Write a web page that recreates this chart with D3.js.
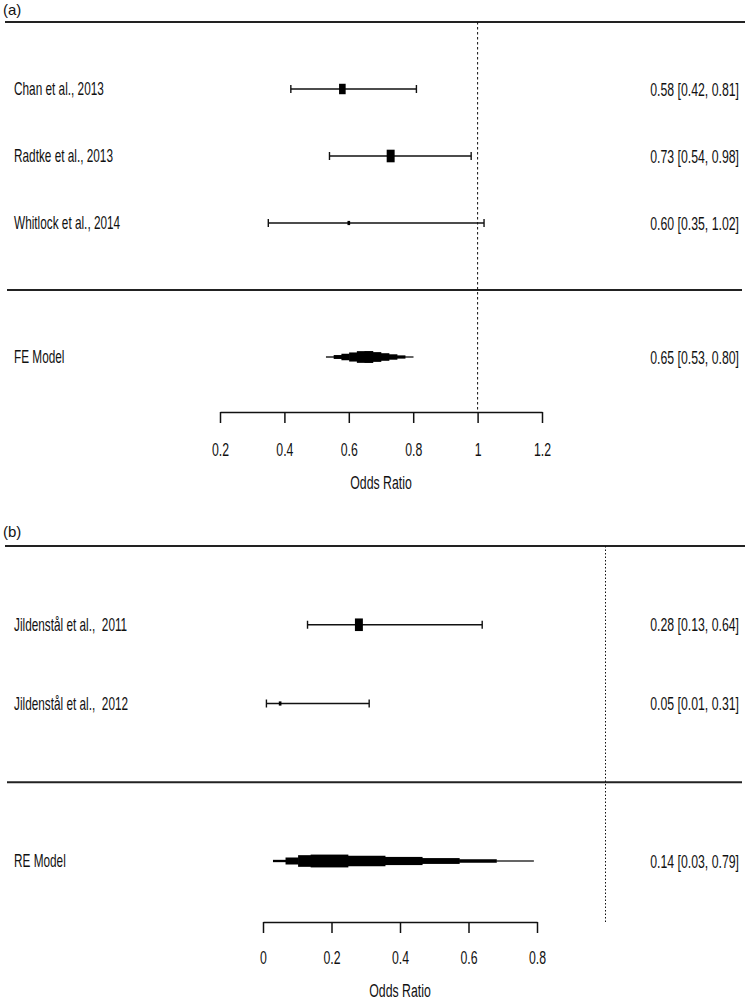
<!DOCTYPE html>
<html>
<head>
<meta charset="utf-8">
<script src="https://cdn.jsdelivr.net/npm/d3@7"></script>
<style>
  body { margin: 0; background: #fff; }
  svg text { font-family: "Liberation Sans", Arial, sans-serif; fill: #111; white-space: pre; }
</style>
</head>
<body>
<div id="chart"></div>
<script>
// ---- data, panel (a) ----
var studiesA = ["Chan et al., 2013", "Radtke et al., 2013", "Whitlock et al., 2014"];
var orA = [0.58, 0.73, 0.60];
var lowerA = [0.42, 0.54, 0.35];
var upperA = [0.81, 0.98, 1.02];
var modelA = ["FE Model", 0.65, 0.53, 0.80];
var ticksA = [0.2, 0.4, 0.6, 0.8, 1, 1.2];

// ---- data, panel (b) ----
var studiesB = ["Jildenstål et al.,  2011", "Jildenstål et al.,  2012"];
var orB = [0.28, 0.05];
var lowerB = [0.13, 0.01];
var upperB = [0.64, 0.31];
var modelB = ["RE Model", 0.14, 0.03, 0.79];
var ticksB = [0, 0.2, 0.4, 0.6, 0.8];

var W = 750, H = 1000;
var svg = d3.select("#chart").append("svg")
    .attr("width", W)
    .attr("height", H);

var f2 = d3.format(".2f");
var stretch = 1.5;   // the original is taller than wide

// text that is stretched vertically, centred on y
function label(g, x, y, txt, anchor, size) {
    g.append("text")
        .attr("transform", "translate(" + x + "," + y + ") scale(1," + stretch + ")")
        .attr("dy", "0.36em")
        .attr("text-anchor", anchor || "start")
        .style("font-size", (size || 12.3) + "px")
        .text(txt);
}

// summary diamond drawn as steps, like the low-res original
function stepDiamond(g, x0, xc, x1, cy, h, stepLen) {
    var segs = [];
    [[xc, x0], [xc, x1]].forEach(function (side) {
        var len = Math.abs(side[1] - side[0]);
        var n = Math.max(3, Math.round(len / stepLen));
        for (var j = 0; j < n; j++) {
            var a = side[0] + (side[1] - side[0]) * j / n;
            var b = side[0] + (side[1] - side[0]) * (j + 1) / n;
            var hh = h * (1 - (j + 0.5) / n);
            segs.push([Math.min(a, b), Math.max(a, b), Math.max(hh, 0.6)]);
        }
    });
    g.selectAll(".step")
        .data(segs)
        .enter().append("rect")
        .attr("class", "step")
        .attr("x", function (d) { return d[0] - 0.3; })
        .attr("width", function (d) { return d[1] - d[0] + 0.6; })
        .attr("y", function (d) { return cy - d[2]; })
        .attr("height", function (d) { return 2 * d[2]; })
        .attr("fill", "#000");
}

// one forest panel
function forest(opt) {
    var g = svg.append("g");
    var x = opt.x, y = opt.y;
    var k = opt.studies.length;

    // inverse-variance weights -> point sizes (same as metafor)
    var w = opt.est.map(function (d, i) {
        var se = (Math.log(opt.hi[i]) - Math.log(opt.lo[i])) / (2 * 1.96);
        return 1 / (se * se);
    });
    var wMin = d3.min(w), wMax = d3.max(w);
    var psize = w.map(function (d) { return 0.5 + (d - wMin) / (wMax - wMin); });

    // panel tag
    g.append("text")
        .attr("x", 3)
        .attr("y", opt.tagY)
        .style("font-size", "15px")
        .text(opt.tag);

    // top and separator lines
    g.append("line")
        .attr("x1", 5).attr("x2", 745)
        .attr("y1", y(k + 1)).attr("y2", y(k + 1))
        .attr("stroke", "#222").attr("stroke-width", 2.2);
    g.append("line")
        .attr("x1", 7).attr("x2", 742)
        .attr("y1", y(0)).attr("y2", y(0))
        .attr("stroke", "#222").attr("stroke-width", 2.2);

    // reference line at OR = 1
    g.append("line")
        .attr("x1", x(1)).attr("x2", x(1))
        .attr("y1", y(k + 1)).attr("y2", opt.axisY)
        .attr("stroke", "#111").attr("stroke-width", 1)
        .attr("stroke-dasharray", opt.dash);

    // studies
    var rows = g.selectAll(".study")
        .data(opt.studies)
        .enter().append("g")
        .attr("class", "study");

    rows.each(function (name, i) {
        var row = d3.select(this);
        var cy = y(k - i);
        row.append("line")
            .attr("x1", x(opt.lo[i])).attr("x2", x(opt.hi[i]))
            .attr("y1", cy).attr("y2", cy)
            .attr("stroke", "#111").attr("stroke-width", 1.6);
        [opt.lo[i], opt.hi[i]].forEach(function (v) {
            row.append("line")
                .attr("x1", x(v)).attr("x2", x(v))
                .attr("y1", cy - 4).attr("y2", cy + 4)
                .attr("stroke", "#111").attr("stroke-width", 1.4);
        });
        var sw = psize[i] * 5.3, sh = psize[i] * 8.4;
        row.append("rect")
            .attr("x", x(opt.est[i]) - sw / 2)
            .attr("y", cy - sh / 2)
            .attr("width", sw)
            .attr("height", sh)
            .attr("fill", "#000");
        label(row, 14, cy, name, "start", 11.8);
        label(row, 739, cy, f2(opt.est[i]) + " [" + f2(opt.lo[i]) + ", " + f2(opt.hi[i]) + "]", "end");
    });

    // summary estimate
    var m = opt.model;
    var my = y(-1);
    stepDiamond(g, x(m[2]), x(m[1]), x(m[3]), my, opt.dh, opt.stepLen);
    label(g, 14, my, m[0], "start", 11.8);
    label(g, 739, my, f2(m[1]) + " [" + f2(m[2]) + ", " + f2(m[3]) + "]", "end");

    // x axis
    var ax = g.append("g")
        .attr("transform", "translate(0," + opt.axisY + ")")
        .call(d3.axisBottom(x)
            .tickValues(opt.ticks)
            .tickFormat(function (d) { return String(d); })
            .tickSize(11)
            .tickSizeOuter(0));
    ax.select(".domain").attr("stroke", "#111").attr("stroke-width", 1.5);
    ax.selectAll(".tick line").attr("stroke", "#111").attr("stroke-width", 1.5);
    ax.selectAll(".tick text")
        .attr("y", null)
        .attr("dy", "0.36em")
        .attr("transform", "translate(0," + opt.tickLabY + ") scale(1," + stretch + ")")
        .style("font-size", "12.3px")
        .style("font-family", "'Liberation Sans', Arial, sans-serif")
        .attr("fill", "#111");

    var mid = (x.range()[0] + x.range()[1]) / 2;
    label(g, mid, opt.axisY + opt.titleY, "Odds Ratio", "middle");
}

forest({
    tag: "(a)", tagY: 15,
    studies: studiesA, est: orA, lo: lowerA, hi: upperA, model: modelA, ticks: ticksA,
    x: d3.scaleLinear().domain([0.2, 1.2]).range([220, 542]),
    y: d3.scaleLinear().domain([4, -1]).range([22, 357]),
    axisY: 412, tickLabY: 37, titleY: 70,
    dash: "2.5,2.5", dh: 6.5, stepLen: 8
});

forest({
    tag: "(b)", tagY: 537,
    studies: studiesB, est: orB, lo: lowerB, hi: upperB, model: modelB, ticks: ticksB,
    x: d3.scaleLinear().domain([0, 0.8]).range([263, 537]),
    y: d3.scaleLinear().domain([3, -1]).range([546, 861]),
    axisY: 922, tickLabY: 35, titleY: 68,
    dash: "1.5,2", dh: 7, stepLen: 37
});
</script>
</body>
</html>
